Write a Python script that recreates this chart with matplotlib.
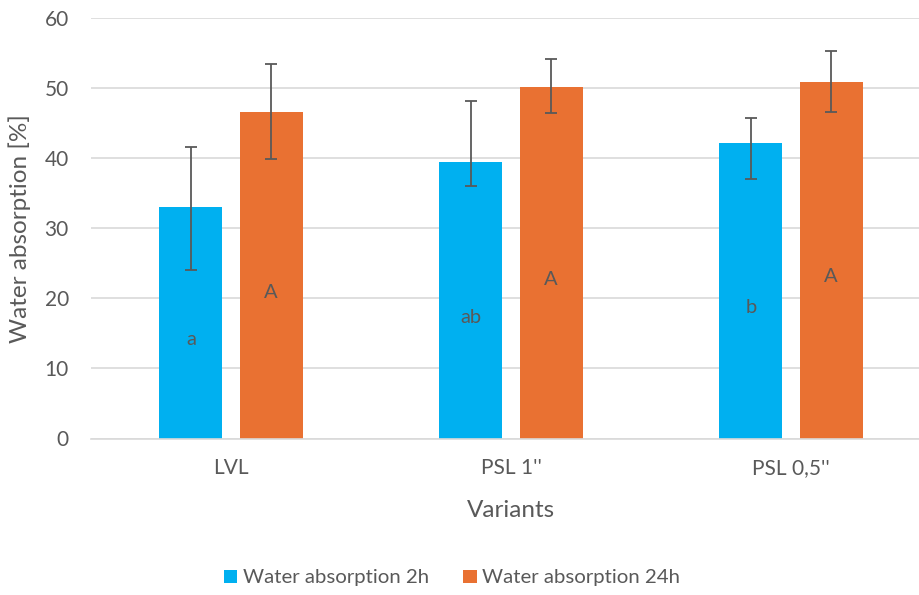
import numpy as np
import matplotlib.pyplot as plt

plt.rcParams['font.family'] = ['Lato', 'DejaVu Sans']

# Mean water absorption [%] with lower / upper error extents
variants = ['LVL', "PSL 1''", "PSL 0,5''"]
mean_2h = [33.0, 39.4, 42.2]
err_lo_2h = [8.9, 3.4, 5.2]
err_hi_2h = [8.6, 8.8, 3.6]
mean_24h = [46.6, 50.2, 50.9]
err_lo_24h = [6.7, 3.7, 4.3]
err_hi_24h = [6.8, 3.9, 4.4]
letters_2h = ['a', 'ab', 'b']
letters_24h = ['A', 'A', 'A']

blue = '#00B0F0'
orange = '#E97132'
text_col = '#595959'

fig = plt.figure(figsize=(9.2, 5.95), dpi=100)
ax = fig.add_axes([91 / 920, 1 - 438.5 / 595, 840 / 920, 420.5 / 595])

x = np.arange(len(variants))
w = 0.225
off = 0.143

ax.bar(x - off, mean_2h, w, color=blue, label='Water absorption 2h', zorder=2)
ax.bar(x + off, mean_24h, w, color=orange, label='Water absorption 24h', zorder=2)
ax.errorbar(x - off, mean_2h, yerr=[err_lo_2h, err_hi_2h], fmt='none',
            ecolor=text_col, elinewidth=1.3, capsize=4.3, capthick=1.3, zorder=3)
ax.errorbar(x + off, mean_24h, yerr=[err_lo_24h, err_hi_24h], fmt='none',
            ecolor=text_col, elinewidth=1.3, capsize=4.3, capthick=1.3, zorder=3)

# significance letters inside the bars
for xi, v, s in zip(x - off, mean_2h, letters_2h):
    ax.text(xi, v / 2 - 2.4, s, ha='center', va='center', fontsize=14.5, color=text_col, zorder=4)
for xi, v, s in zip(x + off, mean_24h, letters_24h):
    ax.text(xi, v / 2 - 2.4, s, ha='center', va='center', fontsize=14.5, color=text_col, zorder=4)

ax.set_xlim(-0.5, 2.5)
ax.set_ylim(0, 60)
ax.set_yticks(range(0, 61, 10))
ax.set_xticks(x)
ax.set_xticklabels(variants)
ax.yaxis.grid(True, color='#D9D9D9', linewidth=1.2, zorder=0)
ax.set_axisbelow(True)
for side in ['top', 'right', 'left']:
    ax.spines[side].set_visible(False)
ax.spines['bottom'].set_color('#D9D9D9')
ax.spines['bottom'].set_linewidth(1.2)
ax.tick_params(axis='both', length=0, labelsize=15, colors=text_col)
ax.tick_params(axis='y', pad=16)
ax.tick_params(axis='x', pad=14)

ax.set_xlabel('Variants', fontsize=17.5, color=text_col, labelpad=16)
ax.set_ylabel('Water absorption [%]', fontsize=17.5, color=text_col, labelpad=10)

fig.legend(loc='center', bbox_to_anchor=(452 / 920, 1 - 578 / 595), ncol=2,
           frameon=False, fontsize=14.7, handlelength=0.65, handleheight=0.65,
           handletextpad=0.25, columnspacing=1.7, labelcolor=text_col)

fig.savefig('out.png', dpi=100)
